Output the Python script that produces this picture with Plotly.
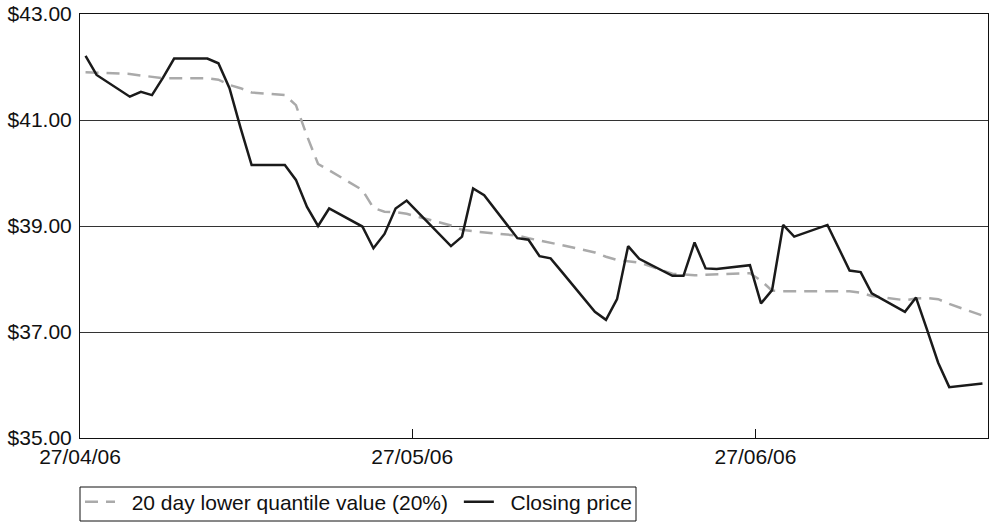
import pandas as pd
import plotly.graph_objects as go

dates = ["2006-04-27", "2006-04-28", "2006-05-01", "2006-05-02", "2006-05-03", "2006-05-04",
         "2006-05-05", "2006-05-08", "2006-05-09", "2006-05-10", "2006-05-11", "2006-05-12",
         "2006-05-15", "2006-05-16", "2006-05-17", "2006-05-18", "2006-05-19", "2006-05-22",
         "2006-05-23", "2006-05-24", "2006-05-25", "2006-05-26", "2006-05-30", "2006-05-31",
         "2006-06-01", "2006-06-02", "2006-06-05", "2006-06-06", "2006-06-07", "2006-06-08",
         "2006-06-09", "2006-06-12", "2006-06-13", "2006-06-14", "2006-06-15", "2006-06-16",
         "2006-06-19", "2006-06-20", "2006-06-21", "2006-06-22", "2006-06-23", "2006-06-26",
         "2006-06-27", "2006-06-28", "2006-06-29", "2006-06-30", "2006-07-03", "2006-07-05",
         "2006-07-06", "2006-07-07", "2006-07-10", "2006-07-11", "2006-07-12", "2006-07-13",
         "2006-07-14", "2006-07-17"]

closing_price = [42.21, 41.85, 41.44, 41.53, 41.47, 41.80,
                 42.16, 42.16, 42.07, 41.60, 40.85, 40.15,
                 40.15, 39.87, 39.36, 39.00, 39.33, 38.99,
                 38.58, 38.85, 39.33, 39.48, 38.62, 38.80,
                 39.71, 39.58, 38.77, 38.74, 38.43, 38.39,
                 38.14, 37.38, 37.23, 37.62, 38.62, 38.38,
                 38.06, 38.06, 38.69, 38.20, 38.19, 38.26,
                 37.54, 37.79, 39.02, 38.80, 39.02, 38.16,
                 38.13, 37.73, 37.38, 37.65, 37.04, 36.42,
                 35.96, 36.03]

lower_quantile = [41.90, 41.89, 41.87, 41.84, 41.81, 41.79,
                  41.79, 41.79, 41.76, 41.66, 41.60, 41.52,
                  41.47, 41.28, 40.70, 40.17, 40.05, 39.68,
                  39.34, 39.27, 39.26, 39.23, 39.01, 38.93,
                  38.90, 38.88, 38.82, 38.77, 38.73, 38.69,
                  38.64, 38.50, 38.42, 38.36, 38.34, 38.31,
                  38.10, 38.08, 38.07, 38.08, 38.09, 38.11,
                  37.97, 37.78, 37.77, 37.77, 37.77, 37.77,
                  37.74, 37.68, 37.60, 37.63, 37.64, 37.62,
                  37.53, 37.31]

series_names = ["20 day lower quantile value (20%)", "Closing price"]
x_tick_dates = ["2006-04-27", "2006-05-27", "2006-06-27"]
y_ticks = [35, 37, 39, 41, 43]
x_start, x_end = "2006-04-27", "2006-07-18"

# points sit in the middle of their day
x = pd.to_datetime(dates) + pd.Timedelta(hours=12)
y_ticktext = ["${:.2f}".format(v) for v in y_ticks]

NB = "\u00a0"
font_family = "Liberation Sans, Arial, Helvetica, sans-serif"

W, H = 992, 524
ML, MR, MT, MB = 80, 4, 14, 86
plot_w, plot_h = W - ML - MR, H - MT - MB

fig = go.Figure()
fig.add_trace(go.Scatter(
    x=x, y=lower_quantile, mode="lines",
    name=NB * 2 + series_names[0] + NB,
    line=dict(color="#aaaaaa", width=2.5, dash="13px,8px"),
))
fig.add_trace(go.Scatter(
    x=x, y=closing_price, mode="lines",
    name=NB * 2 + series_names[1],
    line=dict(color="#1a1a1a", width=2.5),
))

# legend frame (pixel box below the plot)
box_left, box_right, box_top, box_bottom = 80, 636, 487, 521
fig.add_shape(
    type="rect", xref="paper", yref="paper",
    x0=(box_left - ML) / plot_w, x1=(box_right - ML) / plot_w,
    y0=(MT + plot_h - box_top) / plot_h, y1=(MT + plot_h - box_bottom) / plot_h,
    line=dict(color="#111111", width=1), fillcolor="rgba(0,0,0,0)",
)

fig.update_layout(
    width=W, height=H,
    margin=dict(l=ML, r=MR, t=MT, b=MB, autoexpand=False),
    paper_bgcolor="white", plot_bgcolor="white",
    font=dict(family=font_family, size=21, color="#111111"),
    showlegend=True,
    legend=dict(
        orientation="h", x=0, xanchor="left", y=-0.103, yanchor="top",
        borderwidth=0, bgcolor="rgba(0,0,0,0)",
        font=dict(size=21), itemwidth=30,
    ),
    xaxis=dict(
        type="date", range=[x_start, x_end], automargin=False,
        tickvals=x_tick_dates, tickformat="%d/%m/%y",
        ticks="inside", ticklen=9, tickcolor="#111111", tickwidth=1,
        showgrid=False, zeroline=False,
        showline=True, linecolor="#111111", linewidth=1, mirror=True,
        ticklabelstandoff=0,
    ),
    yaxis=dict(
        range=[35, 43], automargin=False,
        tickvals=y_ticks, ticktext=y_ticktext,
        showgrid=True, gridcolor="#333333", gridwidth=1,
        zeroline=False, ticks="",
        showline=True, linecolor="#111111", linewidth=1, mirror=True,
        ticklabelstandoff=3,
    ),
)

fig.write_html(
    "out.html",
    config={"displayModeBar": False},
    post_script="document.body.style.margin='0';document.body.style.overflow='hidden';",
)
